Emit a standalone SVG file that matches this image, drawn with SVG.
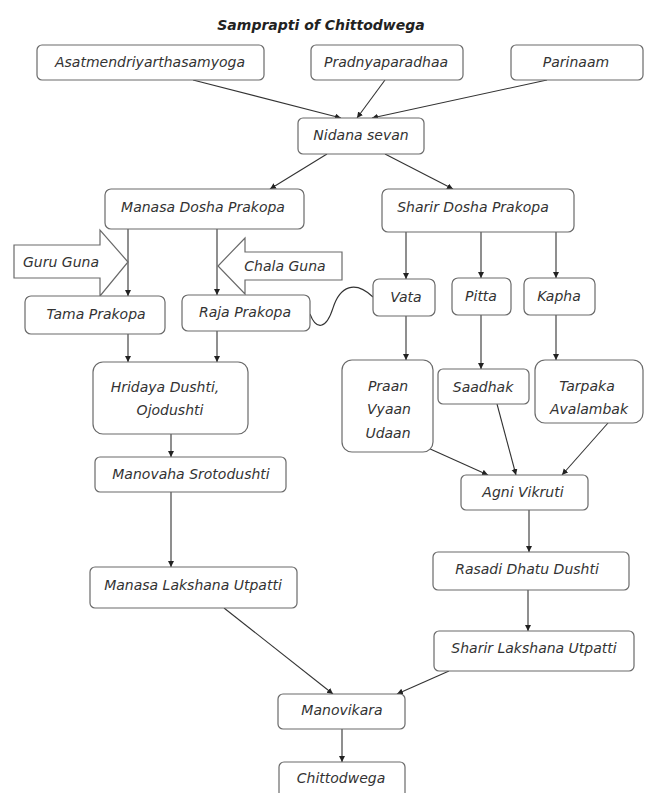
<svg xmlns="http://www.w3.org/2000/svg" width="645" height="793" viewBox="0 0 645 793">
<style>
.b{fill:#fff;stroke:#6a6a6a;stroke-width:1.2}
.t{font-family:"DejaVu Sans",Verdana,sans-serif;font-style:italic;font-size:14px;fill:#333;text-anchor:middle}
.title{font-family:"DejaVu Sans",Verdana,sans-serif;font-style:italic;font-weight:bold;font-size:14px;fill:#222;text-anchor:middle}
.c{stroke:#333;stroke-width:1.1;fill:none}
.ca{stroke:#333;stroke-width:1.1;fill:none;marker-end:url(#ah)}
</style>
<defs>
<marker id="ah" markerUnits="userSpaceOnUse" markerWidth="7" markerHeight="7" refX="6" refY="3" orient="auto">
<path d="M0,0 L6,3 L0,6 z" fill="#222"/>
</marker>
</defs>
<rect width="645" height="793" fill="#fff"/>
<text class="title" x="321" y="30">Samprapti of Chittodwega</text>

<g id="connectors">
<path class="ca" d="M193,80 L341,118"/>
<path class="ca" d="M385,80 L357,118"/>
<path class="ca" d="M547,80 L372,118"/>
<path class="ca" d="M327,154 L270,189"/>
<path class="ca" d="M385,154 L453,189"/>
<path class="ca" d="M128,229 L128,296"/>
<path class="ca" d="M217,229 L217,295"/>
<path class="ca" d="M128,334 L128,362"/>
<path class="ca" d="M217,331 L217,362"/>
<path class="ca" d="M406,232 L406,279"/>
<path class="ca" d="M481,232 L481,278"/>
<path class="ca" d="M556,232 L556,278"/>
<path class="ca" d="M406,316 L406,360"/>
<path class="ca" d="M481,315 L481,369"/>
<path class="ca" d="M556,315 L556,360"/>
<path class="ca" d="M428,448 L488,475"/>
<path class="ca" d="M497,404 L516,475"/>
<path class="ca" d="M608,423 L562,475"/>
<path class="ca" d="M171,434 L171,457"/>
<path class="ca" d="M171,492 L171,567"/>
<path class="ca" d="M529,510 L529,552"/>
<path class="ca" d="M528,590 L528,631"/>
<path class="ca" d="M224,608 L333,694"/>
<path class="ca" d="M449,671 L397,694"/>
<path class="ca" d="M342,729 L342,762"/>
<path class="c" d="M310,314 C316,330 326,330 333,308 C340,286 355,280 373,297"/>
</g>

<g id="guru-guna">
<polygon class="b" points="14,245 100,245 100,230 128,262 100,296 100,278 14,278"/>
<text class="t" x="61" y="267">Guru Guna</text>
</g>
<g id="chala-guna">
<polygon class="b" points="342,252 245,252 245,238 218,266 245,294 245,280 342,280"/>
<text class="t" x="285" y="271">Chala Guna</text>
</g>

<g id="asat"><rect class="b" x="37" y="45" width="227" height="35" rx="5"/><text class="t" x="150" y="67">Asatmendriyarthasamyoga</text></g>
<g id="pradnya"><rect class="b" x="311" y="45" width="152" height="35" rx="5"/><text class="t" x="386" y="67">Pradnyaparadhaa</text></g>
<g id="parinaam"><rect class="b" x="511" y="45" width="132" height="35" rx="5"/><text class="t" x="576" y="67">Parinaam</text></g>
<g id="nidana"><rect class="b" x="298" y="118" width="126" height="36" rx="5"/><text class="t" x="361" y="140">Nidana sevan</text></g>
<g id="manasa-dosha"><rect class="b" x="105" y="189" width="199" height="40" rx="6"/><text class="t" x="203" y="212">Manasa Dosha Prakopa</text></g>
<g id="sharir-dosha"><rect class="b" x="382" y="189" width="192" height="43" rx="6"/><text class="t" x="473" y="212">Sharir Dosha Prakopa</text></g>
<g id="tama"><rect class="b" x="25" y="296" width="140" height="38" rx="6"/><text class="t" x="96" y="319">Tama Prakopa</text></g>
<g id="raja"><rect class="b" x="182" y="295" width="128" height="36" rx="6"/><text class="t" x="245" y="317">Raja Prakopa</text></g>
<g id="vata"><rect class="b" x="373" y="279" width="62" height="37" rx="6"/><text class="t" x="406" y="302">Vata</text></g>
<g id="pitta"><rect class="b" x="452" y="278" width="59" height="37" rx="6"/><text class="t" x="481" y="301">Pitta</text></g>
<g id="kapha"><rect class="b" x="524" y="278" width="71" height="37" rx="6"/><text class="t" x="559" y="301">Kapha</text></g>
<g id="hridaya"><rect class="b" x="93" y="362" width="155" height="72" rx="10"/><text class="t" x="165" y="392">Hridaya Dushti,</text><text class="t" x="170" y="415">Ojodushti</text></g>
<g id="praan"><rect class="b" x="342" y="360" width="91" height="92" rx="10"/><text class="t" x="388" y="391">Praan</text><text class="t" x="389" y="414">Vyaan</text><text class="t" x="388" y="438">Udaan</text></g>
<g id="saadhak"><rect class="b" x="438" y="369" width="91" height="35" rx="5"/><text class="t" x="483" y="392">Saadhak</text></g>
<g id="tarpaka"><rect class="b" x="535" y="360" width="108" height="63" rx="10"/><text class="t" x="587" y="391">Tarpaka</text><text class="t" x="589" y="414">Avalambak</text></g>
<g id="manovaha"><rect class="b" x="95" y="457" width="191" height="35" rx="5"/><text class="t" x="191" y="479">Manovaha Srotodushti</text></g>
<g id="manasa-lakshana"><rect class="b" x="90" y="567" width="207" height="41" rx="5"/><text class="t" x="193" y="590">Manasa Lakshana Utpatti</text></g>
<g id="agni"><rect class="b" x="461" y="475" width="127" height="35" rx="5"/><text class="t" x="523" y="497">Agni Vikruti</text></g>
<g id="rasadi"><rect class="b" x="433" y="552" width="196" height="38" rx="5"/><text class="t" x="527" y="574">Rasadi Dhatu Dushti</text></g>
<g id="sharir-lakshana"><rect class="b" x="434" y="631" width="200" height="40" rx="5"/><text class="t" x="534" y="653">Sharir Lakshana Utpatti</text></g>
<g id="manovikara"><rect class="b" x="278" y="694" width="127" height="35" rx="5"/><text class="t" x="342" y="715">Manovikara</text></g>
<g id="chittodwega"><rect class="b" x="279" y="762" width="126" height="40" rx="5"/><text class="t" x="341" y="783">Chittodwega</text></g>
</svg>
